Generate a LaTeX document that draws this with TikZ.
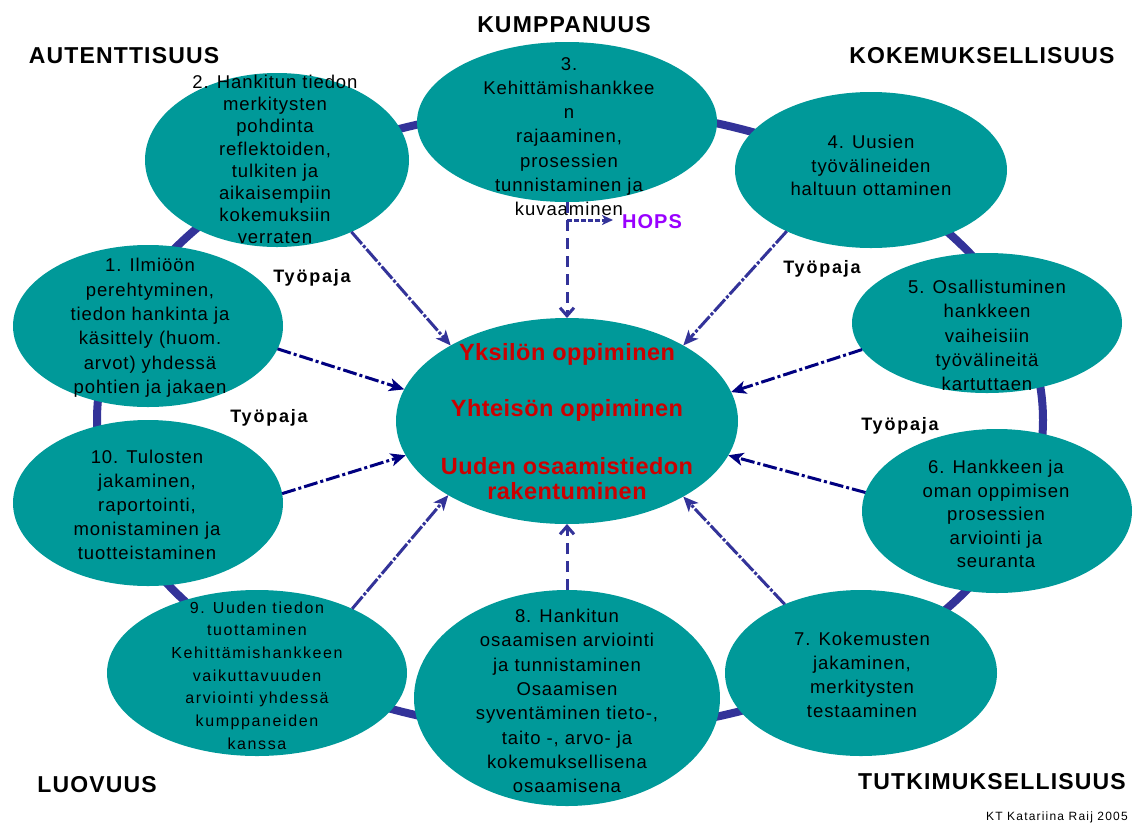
\documentclass[tikz,border=0pt]{standalone}
\usepackage{fontspec}
\setmainfont{Liberation Sans}
\newfontfamily\nodefont[LetterSpace=5]{Liberation Sans}
\newfontfamily\widefont[LetterSpace=10]{Liberation Sans}
\newfontfamily\redfont[LetterSpace=2]{Liberation Sans}
\usetikzlibrary{shapes.geometric,arrows.meta}
\definecolor{teal0}{HTML}{009999}
\definecolor{ringblue}{HTML}{333399}
\definecolor{navy0}{HTML}{000080}
\definecolor{red0}{HTML}{CC0000}
\definecolor{hopsc}{HTML}{9900FF}
\tikzset{
  ringline/.style={draw=ringblue, line width=8pt},
  blob/.style={ellipse, fill=teal0, inner sep=0pt, outer sep=0pt},
  txt/.style={align=center, inner sep=0pt, text=black,
    font=\nodefont\fontsize{18.5}{#1}\selectfont},
  smalltxt/.style={align=center, inner sep=0pt, text=black,
    font=\widefont\fontsize{16}{#1}\selectfont},
  corner/.style={anchor=base, inner sep=0pt, font=\nodefont\bfseries\fontsize{23}{27}\selectfont},
  tyo/.style={anchor=base, inner sep=0pt, font=\widefont\bfseries\fontsize{18}{22}\selectfont},
  redtxt/.style={anchor=base, inner sep=0pt, text=red0, font=\redfont\bfseries\fontsize{23.5}{27}\selectfont},
  flown/.style={draw=navy0, line width=3pt, dash pattern=on 14pt off 3pt on 3pt off 3pt,
    -{Stealth[length=15pt,width=13pt,inset=4pt]}},
  flowb/.style={draw=ringblue, line width=3pt, dash pattern=on 16pt off 2pt on 3pt off 2pt,
    -{Stealth[length=15pt,width=13pt,inset=4pt]}},
  vdash/.style={draw=ringblue, line width=3pt, dash pattern=on 11pt off 7pt,
    -{Straight Barb[length=8pt,width=14pt,line width=3pt]}},
  hopsarrow/.style={draw=ringblue, line width=3pt, dash pattern=on 5pt off 2pt,
    -{Stealth[length=11pt,width=10pt,inset=3pt]}, shorten >=9pt},
}
\begin{document}
\begin{tikzpicture}[x=1pt,y=-1pt]
\useasboundingbox[fill=white] (0,0) rectangle (1141,823);

% ring
\draw[ringline] (570,420) ellipse [x radius=473, y radius=312];

% ellipses
\node[blob, minimum width=270pt, minimum height=162pt] (n1) at (148,326) {};
\node[blob, minimum width=264pt, minimum height=174pt] (n2) at (277,160) {};
\node[blob, minimum width=300pt, minimum height=160pt] (n3) at (567,122) {};
\node[blob, minimum width=272pt, minimum height=156pt] (n4) at (871,170) {};
\node[blob, minimum width=270pt, minimum height=140pt] (n5) at (987,323) {};
\node[blob, minimum width=270pt, minimum height=164pt] (n6) at (997,511) {};
\node[blob, minimum width=272pt, minimum height=166pt] (n7) at (861,673) {};
\node[blob, minimum width=306pt, minimum height=216pt] (n8) at (567,698) {};
\node[blob, minimum width=300pt, minimum height=166pt] (n9) at (257,673) {};
\node[blob, minimum width=270pt, minimum height=166pt] (n10) at (148,503) {};
\node[blob, minimum width=342pt, minimum height=206pt] (cen) at (567,421) {};

% node texts
\node[txt=24.4] (t1) at (150,328) {1. Ilmiöön\\perehtyminen,\\tiedon hankinta ja\\käsittely (huom.\\arvot) yhdessä\\pohtien ja jakaen};
\node[txt=22.1] (t2) at (275,159.5) {2. Hankitun tiedon\\merkitysten\\pohdinta\\reflektoiden,\\tulkiten ja\\aikaisempiin\\kokemuksiin\\verraten};
\node[txt=24.2] (t3) at (569,136.5) {3.\\Kehittämishankkee\\n\\rajaaminen,\\prosessien\\tunnistaminen ja\\kuvaaminen};
\node[txt=23.5] (t4) at (871,165.5) {4. Uusien\\työvälineiden\\haltuun ottaminen};
\node[txt=24.25] (t5) at (987,335.5) {5. Osallistuminen\\hankkeen\\vaiheisiin\\työvälineitä\\kartuttaen};
\node[txt=23.5] (t6) at (996,514) {6. Hankkeen ja\\oman oppimisen\\prosessien\\arviointi ja\\seuranta};
\node[txt=24] (t7) at (862,675) {7. Kokemusten\\jakaminen,\\merkitysten\\testaaminen};
\node[txt=24.3] (t8) at (567,701) {8. Hankitun\\osaamisen arviointi\\ja tunnistaminen\\Osaamisen\\syventäminen tieto-,\\taito -, arvo- ja\\kokemuksellisena\\osaamisena};
\node[smalltxt=22.7] (t9) at (257,675.5) {9. Uuden tiedon\\tuottaminen\\Kehittämishankkeen\\vaikuttavuuden\\arviointi yhdessä\\kumppaneiden\\kanssa};
\node[txt=24] (t10) at (147,505) {10. Tulosten\\jakaminen,\\raportointi,\\monistaminen ja\\tuotteistaminen};

% centre texts
\node[redtxt] (c1) at (567,360) {Yksilön oppiminen};
\node[redtxt] (c2) at (567,416) {Yhteisön oppiminen};
\node[redtxt] (c3) at (567,474) {Uuden osaamistiedon};
\node[redtxt] (c4) at (567,499) {rakentuminen};

% corner labels
\node[corner] (l1) at (124,63) {AUTENTTISUUS};
\node[corner] (l2) at (564,32) {KUMPPANUUS};
\node[corner] (l3) at (982,63) {KOKEMUKSELLISUUS};
\node[corner] (l4) at (97,792) {LUOVUUS};
\node[corner] (l5) at (992,789) {TUTKIMUKSELLISUUS};
\node[anchor=base east, inner sep=0pt, font=\widefont\fontsize{12}{14}\selectfont] (kt) at (1128,820) {KT Katariina Raij 2005};

% Tyopaja labels
\node[tyo] (w1) at (312,282) {Työpaja};
\node[tyo] (w2) at (269,422) {Työpaja};
\node[tyo] (w3) at (822,273) {Työpaja};
\node[tyo] (w4) at (900,430) {Työpaja};

% HOPS
\node[anchor=base west, inner sep=0pt, text=hopsc, font=\nodefont\bfseries\fontsize{20}{24}\selectfont] (hops) at (622,228) {HOPS};
\coordinate (hb) at ([yshift=-18pt]n3.south);

% arrows
\draw[vdash] (n3.south) -- (cen.north);
\draw[hopsarrow] (hb) -- (hb -| hops.west);
\draw[flowb] (n2.-44.6) -- (cen.147);
\draw[flowb] (n4.216.3) -- (cen.33.2);
\draw[flown] (n1.-10.5) -- (cen.169);
\draw[flown] (n5.192.4) -- (cen.10.8);
\draw[flown] (n10.4.6) -- (cen.192);
\draw[flown] (n6.172.2) -- (cen.-12.6);
\draw[flowb] (n9.34.7) -- (cen.212.8);
\draw[flowb] (n7.138.2) -- (cen.-33.2);
\draw[vdash] (n8.north) -- (cen.south);
\end{tikzpicture}
\end{document}
